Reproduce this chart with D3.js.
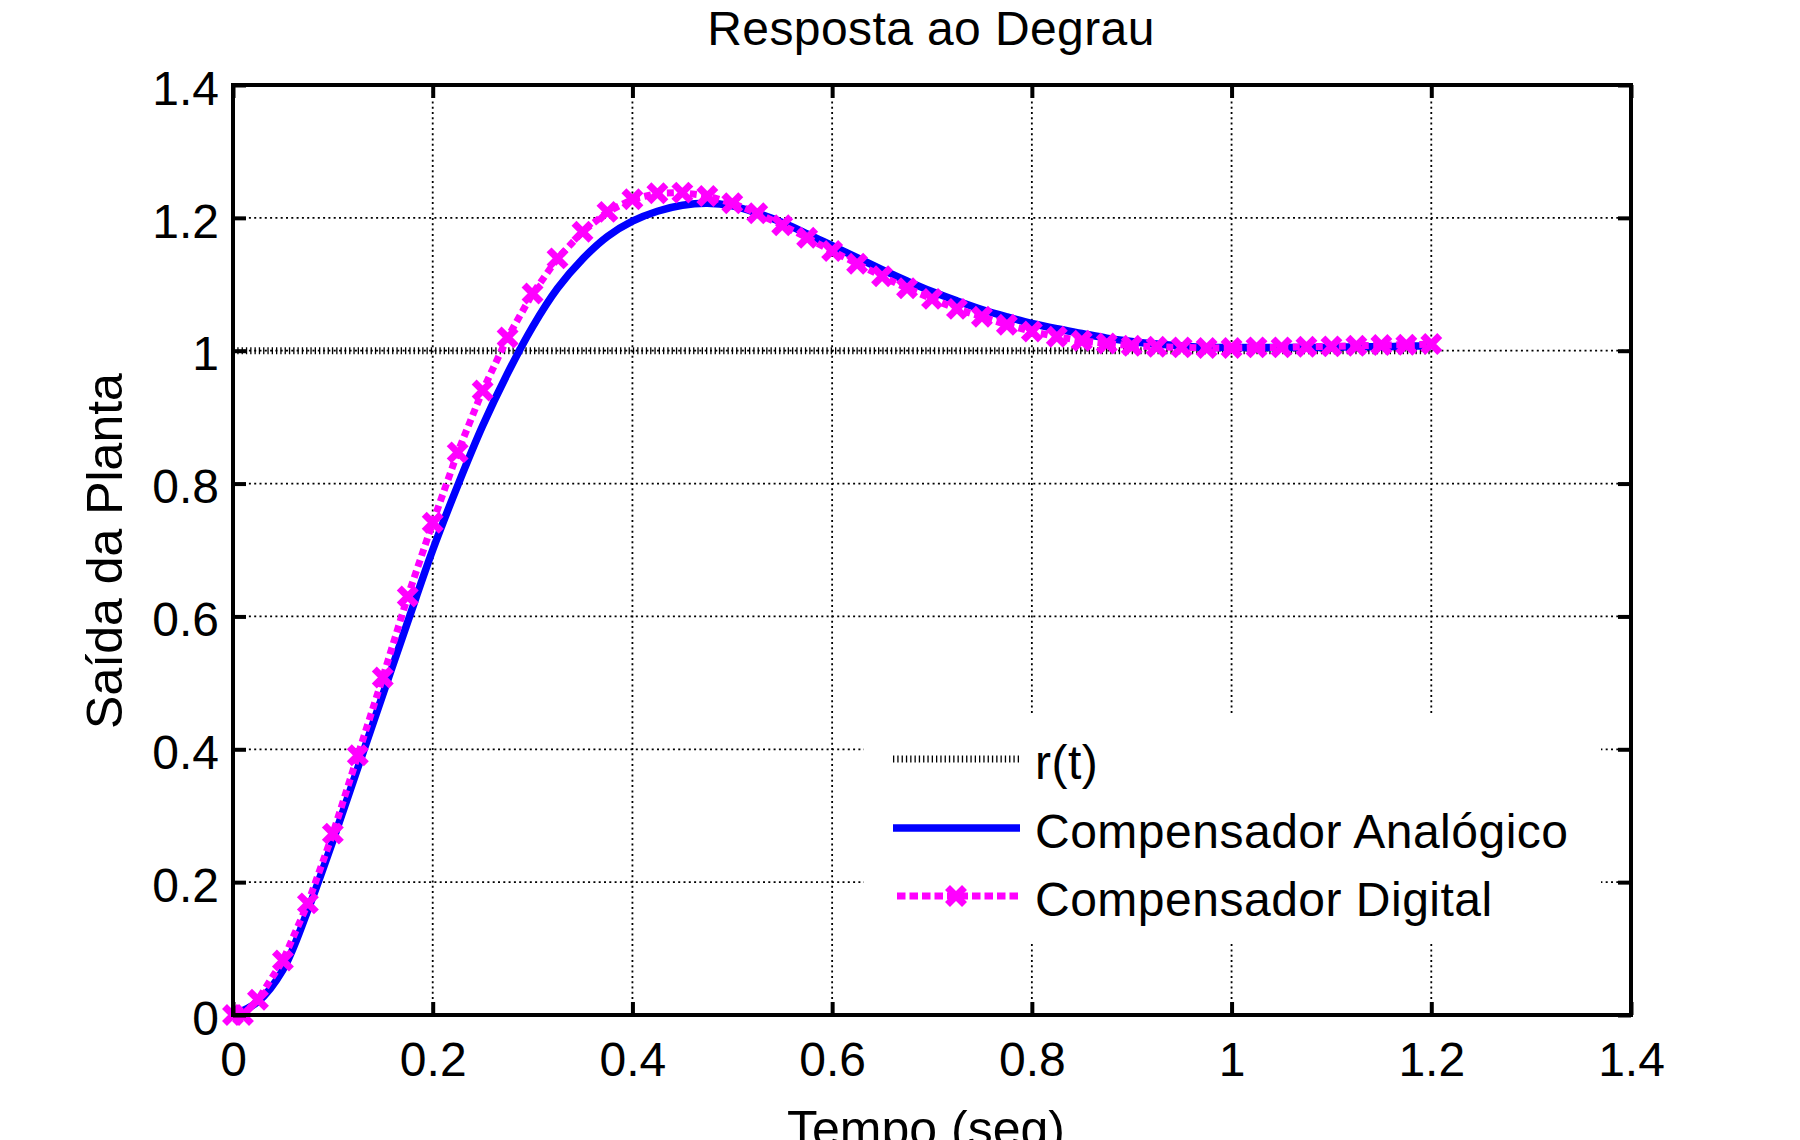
<!DOCTYPE html>
<html>
<head>
<meta charset="utf-8">
<script src="https://cdn.jsdelivr.net/npm/d3@7"></script>
<style>
  body { margin: 0; background: #fff; }
  text { font-family: "Liberation Sans", Arial, Helvetica, sans-serif; fill: #000; }
</style>
</head>
<body>
<script>
// values
const seriesNames = ["r(t)", "Compensador Analógico", "Compensador Digital"];

const tRef = [0, 1.2];
const yRef = [1, 1];

const tAnalog = [0, 0.025, 0.05, 0.075, 0.1, 0.125, 0.15, 0.175, 0.2, 0.225, 0.25, 0.275, 0.3, 0.325,
  0.35, 0.375, 0.4, 0.425, 0.45, 0.475, 0.5, 0.525, 0.55, 0.575, 0.6, 0.625, 0.65, 0.675, 0.7, 0.725,
  0.75, 0.775, 0.8, 0.825, 0.85, 0.875, 0.9, 0.925, 0.95, 0.975, 1.0, 1.025, 1.05, 1.075, 1.1, 1.125,
  1.15, 1.175, 1.2];
const yAnalog = [0, 0.02, 0.068, 0.158, 0.262, 0.372, 0.482, 0.592, 0.70, 0.797, 0.887, 0.966, 1.036, 1.094,
  1.138, 1.172, 1.195, 1.21, 1.219, 1.222, 1.218, 1.207, 1.193, 1.176, 1.158, 1.14, 1.122, 1.105, 1.089, 1.075,
  1.062, 1.051, 1.041, 1.033, 1.026, 1.019, 1.014, 1.010, 1.007, 1.005, 1.005, 1.005, 1.005, 1.005, 1.005, 1.006,
  1.006, 1.007, 1.007];

const tDigital = [0, 0.01, 0.025, 0.05, 0.075, 0.1, 0.125, 0.15, 0.175, 0.2, 0.225, 0.25, 0.275, 0.3, 0.325,
  0.35, 0.375, 0.4, 0.425, 0.45, 0.475, 0.5, 0.525, 0.55, 0.575, 0.6, 0.625, 0.65, 0.675, 0.7, 0.725,
  0.75, 0.775, 0.8, 0.825, 0.85, 0.875, 0.9, 0.925, 0.95, 0.975, 1.0, 1.025, 1.05, 1.075, 1.1, 1.125,
  1.15, 1.175, 1.2];
const yDigital = [0, 0, 0.023, 0.082, 0.168, 0.273, 0.391, 0.508, 0.630, 0.741, 0.847, 0.940, 1.020, 1.086, 1.139,
  1.179, 1.209, 1.228, 1.237, 1.238, 1.233, 1.222, 1.207, 1.189, 1.170, 1.150, 1.131, 1.112, 1.094, 1.078, 1.063,
  1.051, 1.039, 1.029, 1.021, 1.015, 1.011, 1.0075, 1.006, 1.005, 1.004, 1.004, 1.005, 1.005, 1.006, 1.0065, 1.0075,
  1.0085, 1.009, 1.010];

const xTicks = [0, 0.2, 0.4, 0.6, 0.8, 1, 1.2, 1.4];
const xTickLabels = ["0", "0.2", "0.4", "0.6", "0.8", "1", "1.2", "1.4"];
const yTicks = [0, 0.2, 0.4, 0.6, 0.8, 1, 1.2, 1.4];
const yTickLabels = ["0", "0.2", "0.4", "0.6", "0.8", "1", "1.2", "1.4"];

const width = 1800;
const height = 1140;
const margin = {top: 85, right: 169, bottom: 125, left: 233};

const x = d3.scaleLinear().domain([0, 1.4]).range([margin.left, width - margin.right]);
const y = d3.scaleLinear().domain([0, 1.4]).range([height - margin.bottom, margin.top]);

const svg = d3.select("body").append("svg")
  .attr("width", width)
  .attr("height", height);

// grid (dotted)
svg.append("g").selectAll("line").data(xTicks).join("line")
  .attr("x1", d => x(d)).attr("x2", d => x(d))
  .attr("y1", y(0)).attr("y2", y(1.4))
  .attr("stroke", "#000").attr("stroke-width", 1.8).attr("stroke-dasharray", "2,3.3");
svg.append("g").selectAll("line").data(yTicks).join("line")
  .attr("x1", x(0)).attr("x2", x(1.4))
  .attr("y1", d => y(d)).attr("y2", d => y(d))
  .attr("stroke", "#000").attr("stroke-width", 1.8).attr("stroke-dasharray", "2,3.3");

const refData = tRef.map((t, i) => [t, yRef[i]]);
const analogData = tAnalog.map((t, i) => [t, yAnalog[i]]);
const digitalData = tDigital.map((t, i) => [t, yDigital[i]]);

// r(t)
svg.append("path")
  .attr("d", d3.line().x(d => x(d[0])).y(d => y(d[1]))(refData))
  .attr("fill", "none").attr("stroke", "#000")
  .attr("stroke-width", 7).attr("stroke-dasharray", "1.3,3");

// analog
svg.append("path")
  .attr("d", d3.line().x(d => x(d[0])).y(d => y(d[1])).curve(d3.curveCatmullRom)(analogData))
  .attr("fill", "none").attr("stroke", "#0000ff")
  .attr("stroke-width", 7.5).attr("stroke-linejoin", "round");

// digital
svg.append("path")
  .attr("d", d3.line().x(d => x(d[0])).y(d => y(d[1]))(digitalData))
  .attr("fill", "none").attr("stroke", "#ff00ff")
  .attr("stroke-width", 7).attr("stroke-dasharray", "7,4.5");

const cross = s => `M${-s},${-s}L${s},${s}M${-s},${s}L${s},${-s}`;

svg.append("g").selectAll("path").data(digitalData).join("path")
  .attr("transform", d => `translate(${x(d[0])},${y(d[1])})`)
  .attr("d", cross(8.5))
  .attr("stroke", "#ff00ff").attr("stroke-width", 7).attr("fill", "none");

// legend
const lg = svg.append("g");
lg.append("rect")
  .attr("x", 864).attr("y", 715).attr("width", 737).attr("height", 227)
  .attr("fill", "#fff");
const legY = [759, 828, 896];
lg.append("line").attr("x1", 893).attr("x2", 1020).attr("y1", legY[0]).attr("y2", legY[0])
  .attr("stroke", "#000").attr("stroke-width", 7).attr("stroke-dasharray", "1.3,3");
lg.append("line").attr("x1", 893).attr("x2", 1020).attr("y1", legY[1]).attr("y2", legY[1])
  .attr("stroke", "#0000ff").attr("stroke-width", 7.5);
lg.append("line").attr("x1", 897).attr("x2", 1018).attr("y1", legY[2]).attr("y2", legY[2])
  .attr("stroke", "#ff00ff").attr("stroke-width", 7).attr("stroke-dasharray", "8.5,4");
lg.append("path").attr("transform", `translate(956,${legY[2]})`).attr("d", cross(8.5))
  .attr("stroke", "#ff00ff").attr("stroke-width", 7).attr("fill", "none");
lg.selectAll("text").data(seriesNames).join("text")
  .attr("x", 1035).attr("y", (d, i) => legY[i] + 20)
  .attr("font-size", 48).attr("letter-spacing", 0.5)
  .text(d => d);

// axes, ticks pointing inward
const styleAxis = g => {
  g.select(".domain").remove();
  g.selectAll(".tick line").attr("stroke", "#000").attr("stroke-width", 4);
};

svg.append("g").attr("transform", `translate(0,${y(0)})`)
  .call(d3.axisBottom(x).tickValues(xTicks).tickFormat((d, i) => xTickLabels[i]).tickSizeInner(-13).tickSizeOuter(0))
  .call(styleAxis)
  .call(g => g.selectAll(".tick text").attr("y", 61).attr("dy", null)
    .attr("font-size", 48).attr("font-family", null).style("fill", "#000"));

svg.append("g").attr("transform", `translate(0,${y(1.4)})`)
  .call(d3.axisTop(x).tickValues(xTicks).tickFormat("").tickSizeInner(-13).tickSizeOuter(0))
  .call(styleAxis);

svg.append("g").attr("transform", `translate(${x(0)},0)`)
  .call(d3.axisLeft(y).tickValues(yTicks).tickFormat((d, i) => yTickLabels[i]).tickSizeInner(-13).tickSizeOuter(0))
  .call(styleAxis)
  .call(g => g.selectAll(".tick text").attr("x", -14).attr("dy", "0.4em")
    .attr("font-size", 48).attr("font-family", null).style("fill", "#000"));

svg.append("g").attr("transform", `translate(${x(1.4)},0)`)
  .call(d3.axisRight(y).tickValues(yTicks).tickFormat("").tickSizeInner(-13).tickSizeOuter(0))
  .call(styleAxis);

svg.append("rect")
  .attr("x", x(0)).attr("y", y(1.4))
  .attr("width", x(1.4) - x(0)).attr("height", y(0) - y(1.4))
  .attr("fill", "none").attr("stroke", "#000").attr("stroke-width", 4);

// titles
svg.append("text")
  .attr("x", 931).attr("y", 45)
  .attr("text-anchor", "middle")
  .attr("font-size", 48).attr("letter-spacing", 0.4)
  .text("Resposta ao Degrau");

svg.append("text")
  .attr("x", 926).attr("y", 1146)
  .attr("text-anchor", "middle")
  .attr("font-size", 50)
  .text("Tempo (seg)");

svg.append("text")
  .attr("transform", `translate(122,551) rotate(-90)`)
  .attr("text-anchor", "middle")
  .attr("font-size", 50)
  .text("Saída da Planta");
</script>
</body>
</html>
